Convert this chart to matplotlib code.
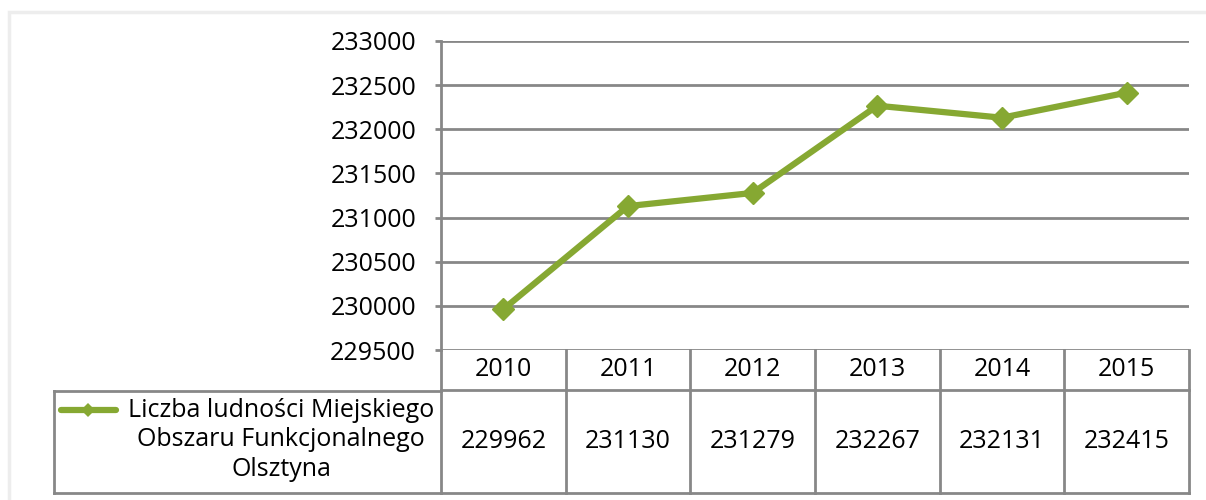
import matplotlib.pyplot as plt
from matplotlib.patches import Rectangle
from matplotlib.transforms import blended_transform_factory
from matplotlib.lines import Line2D

# Population of the Olsztyn Functional Urban Area
years = ['2010', '2011', '2012', '2013', '2014', '2015']
population = [229962, 231130, 231279, 232267, 232131, 232415]
series_label = 'Liczba ludności Miejskiego\nObszaru Funkcjonalnego\nOlsztyna'

y_min, y_max, y_step = 229500, 233000, 500

green = '#86A832'
grid_gray = '#878787'
font = 'Open Sans'
fs = 18
glw = 2.0

W, H = 1206, 500
fig = plt.figure(figsize=(W / 100, H / 100), dpi=100)

# plot area (pixel box 441..1189 x 41..350)
left, right, top, bottom = 441, 1189, 41, 350
ax = fig.add_axes([left / W, 1 - bottom / H, (right - left) / W, (bottom - top) / H])

x = list(range(len(years)))
ax.plot(x, population, color=green, lw=4.5, marker='D', ms=11.5,
        mec=green, mew=1, solid_capstyle='butt', zorder=3, clip_on=False)

ax.set_xlim(-0.5, len(years) - 0.5)
ax.set_ylim(y_min, y_max)
yt = list(range(y_min, y_max + 1, y_step))
ax.set_yticks(yt)
ax.set_yticklabels([str(v) for v in yt], fontsize=fs, family=font)
ax.set_xticks([])
ax.tick_params(axis='y', length=4, width=glw, color=grid_gray, pad=14)
for s in ['top', 'right', 'bottom']:
    ax.spines[s].set_visible(False)
ax.spines['left'].set_color(grid_gray)
ax.spines['left'].set_linewidth(glw)
for v in yt:
    ax.axhline(v, color=grid_gray, lw=glw, zorder=1)

# data table below the axes, columns follow the category scale
tr = blended_transform_factory(ax.transData, ax.transAxes)
px = 1.0 / (bottom - top)   # one pixel in axes-fraction units (vertical)
row1 = -40 * px
row2 = -143 * px
xl, xr = -0.5, len(years) - 0.5

def hline(y, x0, x1, transform=tr):
    ax.add_line(Line2D([x0, x1], [y, y], color=grid_gray, lw=glw,
                       transform=transform, clip_on=False))

def vline(xv, y0, y1, transform=tr):
    ax.add_line(Line2D([xv, xv], [y0, y1], color=grid_gray, lw=glw,
                       transform=transform, clip_on=False))

for i in range(len(years) + 1):
    vline(i - 0.5, 0, row2)
hline(row1, xl, xr)
hline(row2, xl, xr)

for i, (yr, val) in enumerate(zip(years, population)):
    ax.text(i, row1 / 2, yr, transform=tr, ha='center', va='center',
            fontsize=fs, family=font)
    ax.text(i, (row1 + row2) / 2, str(val), transform=tr, ha='center',
            va='center', fontsize=fs, family=font)

# legend cell at the left of the data row
fig_tr = fig.transFigure
cell_l = 54 / W
ax_l = left / W
y_r1 = 1 - 391 / H
y_r2 = 1 - 493 / H
fig.add_artist(Line2D([cell_l, ax_l], [y_r1, y_r1], color=grid_gray, lw=glw))
fig.add_artist(Line2D([cell_l, ax_l], [y_r2, y_r2], color=grid_gray, lw=glw))
fig.add_artist(Line2D([cell_l, cell_l], [y_r1, y_r2], color=grid_gray, lw=glw))

ly = 1 - 410 / H
fig.add_artist(Line2D([61 / W, 116 / W], [ly, ly], color=green, lw=4.5,
                      solid_capstyle='round'))
fig.add_artist(Line2D([88 / W], [ly], color=green, marker='D', ms=7.5, mew=0))
fig.text(281 / W, 1 - 440 / H, series_label, ha='center', va='center',
         multialignment='center', fontsize=fs, family=font, linespacing=1.25)

# faint outer frame
fig.add_artist(Rectangle((9 / W, -0.1), 1.2, 1 - 12 / H + 0.1,
                         transform=fig_tr, fill=False, ec='#EDEDED', lw=2.5))

fig.savefig('out.png', dpi=100, facecolor='white')
